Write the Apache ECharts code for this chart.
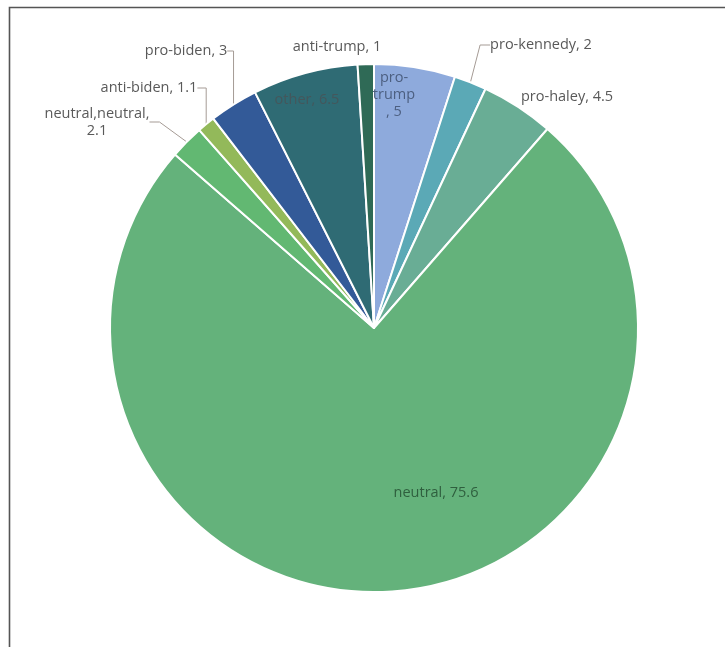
<!DOCTYPE html>
<html>
<head>
<meta charset="utf-8">
<script src="https://cdn.jsdelivr.net/npm/echarts@6/dist/echarts.min.js"></script>
<style>
  html, body { margin: 0; padding: 0; background: #fff; }
  #chart { width: 725px; height: 647px; }
</style>
</head>
<body>
<div id="chart"></div>
<script>
// Stance categories, clockwise from 12 o'clock
const categories = ['pro-trump', 'pro-kennedy', 'pro-haley', 'neutral', 'neutral,neutral', 'anti-biden', 'pro-biden', 'other', 'anti-trump'];
const values = [5, 2, 4.5, 75.6, 2.1, 1.1, 3, 6.5, 1];
const sliceColors = ['#8eaadc', '#5ba9b6', '#69ad95', '#64b27b', '#62b872', '#93b95a', '#335a98', '#2f6b74', '#2f6a56'];

// Label text per slice (Excel-style "name, value")
const labelTexts = ['pro-\ntrump\n, 5', 'pro-kennedy, 2', 'pro-haley, 4.5', 'neutral, 75.6', 'neutral,neutral,\n2.1', 'anti-biden, 1.1', 'pro-biden, 3', 'other, 6.5', 'anti-trump, 1'];
const labelColors = ['#4c5f80', '#595959', '#595959', '#2f5f3e', '#595959', '#595959', '#595959', '#44575c', '#595959'];
const leaderShown = [false, true, false, false, true, true, true, false, false];
// label anchor (centre) placement
const labelSpots = [[394, 95], [541, 45], [567, 97], [436, 493], [97, 122], [149, 88], [186, 51], [307, 100], [337, 47]];

const chart = echarts.init(document.getElementById('chart'));

const data = categories.map((name, i) => ({
  name,
  value: values[i],
  itemStyle: { color: sliceColors[i] },
  label: { formatter: labelTexts[i], color: labelColors[i] },
  labelLine: { show: leaderShown[i] }
}));

chart.setOption({
  animation: false,
  graphic: [{
    type: 'rect',
    shape: { x: 9.5, y: 7.5, width: 800, height: 800 },
    style: { fill: 'none', stroke: '#555555', lineWidth: 1.6 },
    silent: true
  }],
  series: [{
    type: 'pie',
    center: [374, 328],
    radius: 264,
    startAngle: 90,
    clockwise: true,
    avoidLabelOverlap: false,
    itemStyle: { borderColor: '#ffffff', borderWidth: 2 },
    label: {
      show: true,
      position: 'outside',
      fontFamily: 'Open Sans',
      fontSize: 14.5,
      lineHeight: 17,
      align: 'center'
    },
    labelLine: {
      show: true,
      length: 10,
      length2: 10,
      lineStyle: { color: '#a59b95', width: 1 }
    },
    labelLayout: function (params) {
      const p = labelSpots[params.dataIndex];
      return { x: p[0], y: p[1], align: 'center', verticalAlign: 'middle' };
    },
    data
  }]
});
</script>
</body>
</html>
